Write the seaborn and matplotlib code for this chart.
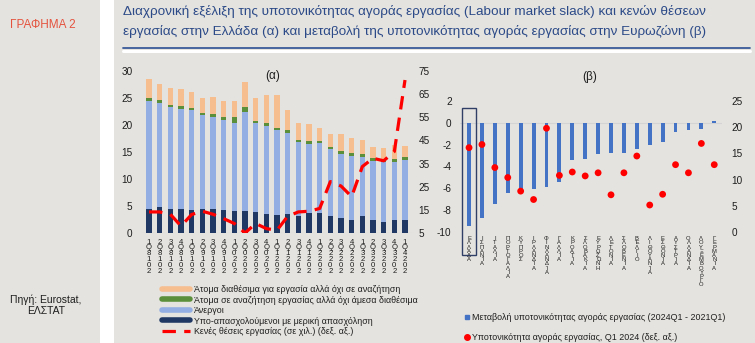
import numpy as np
import pandas as pd
import matplotlib
matplotlib.use("Agg")
import matplotlib.pyplot as plt
import seaborn as sns
from matplotlib.lines import Line2D
from matplotlib.patches import Rectangle

# ---------------- data ----------------
quarters = ["2018Q1", "2018Q2", "2018Q3", "2018Q4", "2019Q1", "2019Q2", "2019Q3", "2019Q4",
            "2020Q1", "2020Q2", "2020Q3", "2020Q4", "2021Q1", "2021Q2", "2021Q3", "2021Q4",
            "2022Q1", "2022Q2", "2022Q3", "2022Q4", "2023Q1", "2023Q2", "2023Q3", "2023Q4",
            "2024Q1"]
underemployed = [4.5, 4.8, 4.4, 4.5, 4.35, 4.5, 4.4, 4.3, 4.15, 4.0, 3.8, 3.55, 3.4, 3.6, 3.2,
                 3.7, 3.7, 3.2, 2.7, 2.5, 3.1, 2.5, 2.1, 2.5, 2.5]
unemployed = [20.0, 19.3, 18.9, 18.5, 18.5, 17.4, 17.1, 16.6, 16.25, 18.4, 16.6, 16.25, 15.7,
              15.0, 13.6, 12.8, 12.9, 12.3, 11.9, 11.7, 10.9, 10.9, 11.0, 10.7, 11.1]
seeking_not_avail = [0.5, 0.5, 0.4, 0.5, 0.35, 0.4, 0.55, 0.65, 1.15, 1.0, 0.4, 0.5, 0.3, 0.5,
                     0.4, 0.45, 0.5, 0.4, 0.55, 0.6, 0.6, 0.4, 0.5, 0.5, 0.5]
avail_not_seeking = [3.6, 3.0, 3.1, 3.2, 2.9, 2.7, 3.1, 2.85, 2.95, 4.6, 4.2, 5.3, 6.2, 3.7,
                     3.2, 3.15, 2.4, 2.4, 3.15, 2.8, 2.7, 2.2, 2.2, 2.6, 2.0]
vacancies = [14.1, 14.1, 13.1, 8.0, 13.0, 14.4, 13.1, 11.2, 9.1, 5.0, 9.1, 6.9, 6.2, 12.2,
             14.1, 14.4, 15.6, 27.2, 25.3, 20.7, 33.7, 37.3, 36.2, 40.2, 71.1]

countries = ["Ελλάδα", "Ισπανία", "Ιταλία", "Πορτογαλία", "Κύπρος", "Ιρλανδία", "Φινλανδία",
             "Γαλλία", "Κροατία", "Σλοβακία", "Ευρωζώνη", "Λετονία", "Σλοβενία", "Βέλγιο",
             "Λιθουανία", "Εσθονία", "Αυστρία", "Ολλανδία", "Λουξεμβούργο", "Γερμανία"]
slack_change = [-9.47, -8.7, -7.42, -6.41, -6.17, -6.02, -5.9, -5.44, -3.42, -3.33, -2.81,
                -2.72, -2.72, -2.44, -2.02, -1.8, -0.82, -0.64, -0.52, 0.2]
slack_level = [16.1, 16.7, 12.3, 10.4, 7.8, 6.2, 19.8, 10.8, 11.45, 10.7, 11.3, 7.1, 11.3,
               14.5, 5.15, 7.2, 12.85, 11.3, 16.9, 12.85]

# ---------------- style ----------------
BG = "#e4e3df"
FONT = ["Liberation Sans", "DejaVu Sans"]
sns.set_theme(style="white")
plt.rcParams["font.family"] = FONT
plt.rcParams["axes.facecolor"] = BG
plt.rcParams["figure.facecolor"] = BG
plt.rcParams["axes.unicode_minus"] = False

C_ORANGE = "#f6bd8f"
C_GREEN = "#5b8f3a"
C_LBLUE = "#93aee2"
C_NAVY = "#1f3864"
C_RED = "#ff0000"
C_BLUE = "#4472c4"
TXT = "#1e1e1e"

W, H = 755, 343
fig = plt.figure(figsize=(W / 100, H / 100), dpi=100)
fig.patch.set_facecolor(BG)

def fx(px):
    return px / W

def fy(py):
    return 1 - py / H

# white separator stripe
fig.patches.append(Rectangle((fx(100), 0), fx(14), 1, transform=fig.transFigure,
                             facecolor="white", edgecolor="none", zorder=0))

# left side labels
fig.text(fx(43), fy(25), "ΓΡΑΦΗΜΑ 2", color="#e5533f", fontsize=8.5, ha="center", va="center")
fig.text(fx(46), fy(305), "Πηγή: Eurostat,\nΕΛΣΤΑΤ", color=TXT, fontsize=7.5, ha="center",
         va="center", linespacing=1.1)

# title
fig.text(fx(123), fy(12), "Διαχρονική εξέλιξη της υποτονικότητας αγοράς εργασίας (Labour market slack) και κενών θέσεων",
         color="#2c4a88", fontsize=9.7, ha="left", va="center")
fig.text(fx(123), fy(31), "εργασίας στην Ελλάδα (α) και μεταβολή της υποτονικότητας αγοράς εργασίας στην Ευρωζώνη (β)",
         color="#2c4a88", fontsize=9.7, ha="left", va="center")
fig.add_artist(Line2D([fx(123), fx(750)], [fy(48), fy(48)], transform=fig.transFigure,
                      color="#3a5a9a", lw=1.3))
fig.add_artist(Line2D([fx(123), fx(750)], [fy(51), fy(51)], transform=fig.transFigure,
                      color="white", lw=2.2))

# ---------------- chart (α) ----------------
n = len(quarters)
df = pd.DataFrame({
    "q": quarters,
    "navy": underemployed,
    "blue": np.array(underemployed) + np.array(unemployed),
})
df["green"] = df["blue"] + np.array(seeking_not_avail)
df["total"] = df["green"] + np.array(avail_not_seeking)

axA = fig.add_axes([fx(141), fy(233), fx(413 - 141), fy(71) - fy(233)])
for col, colr in [("total", C_ORANGE), ("green", C_GREEN), ("blue", C_LBLUE), ("navy", C_NAVY)]:
    sns.barplot(data=df, x="q", y=col, color=colr, ax=axA, width=0.47, saturation=1,
                order=quarters, edgecolor="none", linewidth=0)
axA.set_ylim(0, 30)
axA.set_xlim(-0.75, n - 0.25)
axA.set_yticks(range(0, 31, 5))
axA.set_xticks(range(n))
axA.set_xticklabels(["\n".join(reversed(q)) for q in quarters], fontsize=5.6,
                    linespacing=0.78, va="top", color=TXT)
axA.tick_params(axis="x", length=0, pad=4)
axA.tick_params(axis="y", length=0, pad=6, labelsize=7.2, labelcolor=TXT)
axA.set_xlabel("")
axA.set_ylabel("")
for s in axA.spines.values():
    s.set_visible(False)
axA.axhline(0, color="#d0d0d0", lw=0.8, zorder=0)

axA2 = axA.twinx()
sns.lineplot(x=np.arange(n), y=vacancies, ax=axA2, color=C_RED, lw=2.3)
axA2.lines[0].set_dashes((4.2, 2.6))
axA2.set_ylim(5, 75)
axA2.set_yticks(range(5, 76, 10))
axA2.tick_params(axis="y", length=0, pad=4, labelsize=7.2, labelcolor=TXT)
for s in axA2.spines.values():
    s.set_visible(False)
axA2.set_ylabel("")
axA2.grid(False)
fig.text(fx(273), fy(76), "(α)", fontsize=8.5, color=TXT, ha="center", va="center")

# legend (α)
legA = [
    Line2D([], [], color=C_ORANGE, lw=4, label="Άτομα διαθέσιμα για εργασία αλλά όχι σε αναζήτηση"),
    Line2D([], [], color=C_GREEN, lw=4, label="Άτομα σε αναζήτηση εργασίας αλλά όχι άμεσα διαθέσιμα"),
    Line2D([], [], color=C_LBLUE, lw=4, label="Άνεργοι"),
    Line2D([], [], color=C_NAVY, lw=4, label="Υπο-απασχολούμενοι με μερική απασχόληση"),
    Line2D([], [], color=C_RED, lw=2.3, dashes=(4.2, 2.6), label="Κενές θέσεις εργασίας (σε χιλ.) (δεξ. αξ.)"),
]
fig.legend(handles=legA, loc="upper left", bbox_to_anchor=(fx(162), fy(285)), frameon=False,
           fontsize=6.4, handlelength=3.1, handletextpad=0.5, labelspacing=0.17,
           borderaxespad=0, borderpad=0, labelcolor=TXT)

# ---------------- chart (β) ----------------
m = len(countries)
dfB = pd.DataFrame({"c": countries, "chg": slack_change, "lvl": slack_level})
axB = fig.add_axes([fx(460), fy(232), fx(722 - 460), fy(101) - fy(232)])
sns.barplot(data=dfB, x="c", y="chg", color=C_BLUE, ax=axB, width=0.3, saturation=1,
            order=countries, edgecolor="none", linewidth=0)
axB.set_ylim(-10, 2)
axB.set_xlim(-0.7, m - 0.4)
axB.set_yticks(range(-10, 3, 2))
axB.set_xticks(range(m))
axB.set_xticklabels(["\n".join(c.upper()) for c in countries], fontsize=4.2,
                    linespacing=0.8, va="top", color=TXT)
axB.tick_params(axis="x", length=0, pad=3)
axB.tick_params(axis="y", length=0, pad=6, labelsize=7.2, labelcolor=TXT)
axB.set_xlabel("")
axB.set_ylabel("")
for s in axB.spines.values():
    s.set_visible(False)
axB.axhline(0, color="#d4d4d4", lw=0.8, zorder=0)

axB2 = axB.twinx()
sns.scatterplot(x=np.arange(m), y=slack_level, ax=axB2, color=C_RED, s=24, edgecolor="none",
                zorder=5)
axB2.set_ylim(0, 25)
axB2.set_yticks(range(0, 26, 5))
axB2.tick_params(axis="y", length=0, pad=7, labelsize=7.2, labelcolor=TXT)
for s in axB2.spines.values():
    s.set_visible(False)
axB2.set_ylabel("")
axB2.grid(False)

# highlight box around first country (data coords, extends below the axis)
axB2.add_patch(Rectangle((-0.52, -4.4), 1.04, 28.1, transform=axB2.transData,
                         fill=False, edgecolor="#2f3f66", lw=1.0, clip_on=False, zorder=6))

fig.text(fx(590), fy(77), "(β)", fontsize=8.5, color=TXT, ha="center", va="center")

legB = [
    Line2D([], [], marker="s", color=C_BLUE, lw=0, markersize=3.5,
           label="Μεταβολή υποτονικότητας αγοράς εργασίας (2024Q1 - 2021Q1)"),
    Line2D([], [], marker="o", color=C_RED, lw=0, markersize=4,
           label="Υποτονικότητα αγοράς εργασίας, Q1 2024 (δεξ. αξ.)"),
]
fig.legend(handles=legB, loc="upper left", bbox_to_anchor=(fx(464), fy(313)), frameon=False,
           fontsize=6.4, handlelength=0.6, handletextpad=0.3, labelspacing=1.2,
           borderaxespad=0, borderpad=0, labelcolor=TXT)

fig.savefig("out.png", dpi=100, facecolor=BG)
